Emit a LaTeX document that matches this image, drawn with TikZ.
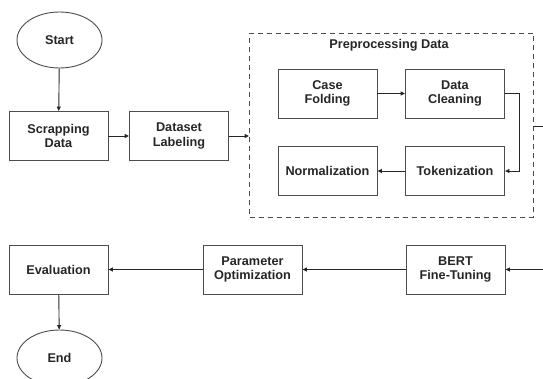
\documentclass[tikz,border=0pt]{standalone}
\usepackage{fontspec}
\setmainfont{Liberation Sans}
\usetikzlibrary{shapes.geometric,arrows.meta}
\begin{document}
\begin{tikzpicture}[x=1pt,y=-1pt,
  every node/.style={font=\fontsize{12.7}{14.5}\selectfont\bfseries, text=black!85, align=center, inner sep=0pt},
  procbox/.style={draw=black!70, line width=0.9pt, minimum width=99pt, minimum height=49pt},
  termbox/.style={draw=black!70, line width=0.9pt, ellipse, minimum width=85pt, minimum height=56pt},
  conn/.style={draw=black!85, line width=0.9pt, -{Triangle[length=4.5pt,width=4pt]}},
  plain/.style={draw=black!85, line width=0.9pt}]
\useasboundingbox (0,0) rectangle (543,379);
\clip (0,0) rectangle (543,379);
\node[termbox] (start) at (59.5,40) {Start};
\node[procbox] (scrap) at (58.5,136) {Scrapping\\Data};
\node[procbox] (label) at (179,136) {Dataset\\Labeling};
\node[draw=black!70, dashed, line width=0.9pt, minimum width=283.5pt, minimum height=184pt, dash pattern=on 5pt off 4pt] (pre) at (391.25,125) {};
\node (pretitle) at (389,45) {Preprocessing Data};
\node[procbox] (case) at (327.5,93.5) {Case\\Folding};
\node[procbox] (clean) at (455,93.5) {Data\\Cleaning};
\node[procbox] (norm) at (327.5,171) {Normalization};
\node[procbox] (tok) at (455,171) {Tokenization};
\node[procbox] (eval) at (58.5,269.5) {Evaluation};
\node[procbox] (param) at (252.5,269.5) {Parameter\\Optimization};
\node[procbox] (bert) at (455.5,269.5) {BERT\\Fine-Tuning};
\node[termbox] (end) at (59.5,358) {End};
\coordinate (exitR) at (543,126);
\coordinate (enterR) at (543,269.5);
\draw[conn] (start) -- (scrap);
\draw[conn] (scrap) -- (label);
\draw[conn] (label.east) -- (pre.west |- label.east);
\draw[conn] (case) -- (clean);
\draw[conn] (clean.east) -- ++(14,0) |- (tok.east);
\draw[conn] (tok) -- (norm);
\draw[plain] (pre.east |- exitR) -- (exitR);
\draw[conn] (enterR) -- (bert.east);
\draw[conn] (bert) -- (param);
\draw[conn] (param) -- (eval);
\draw[conn] (eval) -- (end);
\end{tikzpicture}
\end{document}
